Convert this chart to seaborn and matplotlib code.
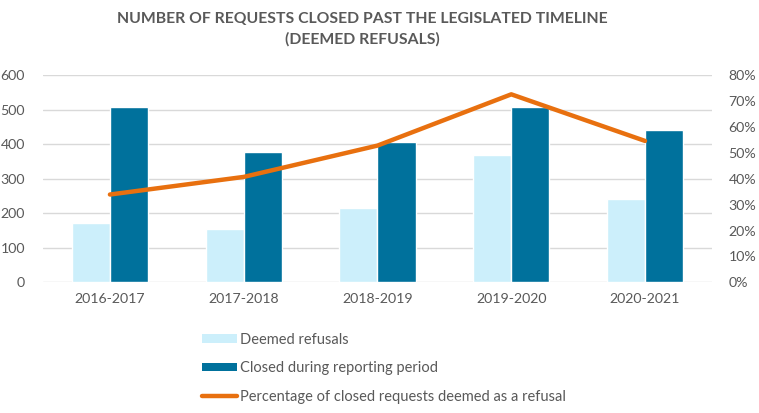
import matplotlib
matplotlib.use("Agg")
import matplotlib.pyplot as plt
import seaborn as sns
import pandas as pd
import numpy as np
from matplotlib.patches import Patch
from matplotlib.lines import Line2D

years = ["2016-2017", "2017-2018", "2018-2019", "2019-2020", "2020-2021"]
deemed_refusals = [172, 154, 215, 369, 241]
closed_total = [508, 378, 407, 508, 441]
pct_deemed = [0.339, 0.407, 0.528, 0.726, 0.546]
left_ticks = [0, 100, 200, 300, 400, 500, 600]
right_ticks = [0, 0.1, 0.2, 0.3, 0.4, 0.5, 0.6, 0.7, 0.8]

series_names = ["Deemed refusals", "Closed during reporting period"]
line_name = "Percentage of closed requests deemed as a refusal"

light = "#CCEFFB"
dark = "#00719C"
orange = "#E8700F"
gray_text = "#595959"
grid_col = "#D9D9D9"

sns.set_style("white")
plt.rcParams["font.family"] = ["Lato", "DejaVu Sans"]

df = pd.DataFrame({
    "year": years * 2,
    "value": deemed_refusals + closed_total,
    "series": [series_names[0]] * len(years) + [series_names[1]] * len(years),
})

fig = plt.figure(figsize=(7.59, 4.13), dpi=100)
ax = fig.add_axes([0.0567, 0.3165, 0.8813, 0.5015])

sns.barplot(data=df, x="year", y="value", hue="series", order=years,
            hue_order=series_names, palette=[light, dark], width=0.57,
            saturation=1, ax=ax, legend=False, errorbar=None)

ax.set_ylim(0, 600)
ax.set_xlim(-0.5, len(years) - 0.5)
ax.set_yticks(left_ticks)
ax.set_yticklabels([str(t) for t in left_ticks])
ax.yaxis.grid(True, color=grid_col, linewidth=1)
ax.set_axisbelow(True)
for s in ax.spines.values():
    s.set_visible(False)
ax.tick_params(axis="both", length=0, colors=gray_text, labelsize=10.2)
ax.tick_params(axis="y", pad=13)
ax.tick_params(axis="x", pad=8)
ax.set_xlabel("")
ax.set_ylabel("")

ax2 = ax.twinx()
sns.lineplot(x=np.arange(len(years)), y=pct_deemed, ax=ax2, color=orange,
             linewidth=3.2, legend=False)
ax2.set_ylim(0, 0.8)
ax2.set_yticks(right_ticks)
ax2.set_yticklabels([f"{int(round(t*100))}%" for t in right_ticks])
for s in ax2.spines.values():
    s.set_visible(False)
ax2.tick_params(axis="y", length=0, colors=gray_text, labelsize=10.2, pad=12)
ax2.set_ylabel("")
ax2.grid(False)

fig.text(0.477, 0.972, "NUMBER OF REQUESTS CLOSED PAST THE LEGISLATED TIMELINE\n(DEEMED REFUSALS)",
         ha="center", va="top", fontsize=11.3, fontweight="bold", color=gray_text,
         linespacing=1.55)

handles = [Patch(facecolor=light, edgecolor="none"),
           Patch(facecolor=dark, edgecolor="none"),
           Line2D([0], [0], color=orange, linewidth=3.2)]
labels = series_names + [line_name]
leg = fig.legend(handles, labels, loc="upper left", bbox_to_anchor=(0.258, 0.209),
                 frameon=False, fontsize=10.5, handlelength=2.4, handleheight=0.55,
                 handletextpad=0.25, labelspacing=1.0, borderaxespad=0)
for t in leg.get_texts():
    t.set_color(gray_text)

fig.savefig("out.png", dpi=100)
